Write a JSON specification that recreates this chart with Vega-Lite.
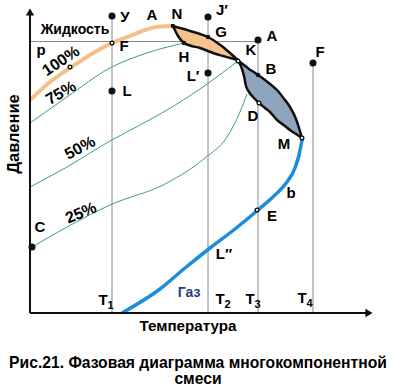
{
  "$schema": "https://vega.github.io/schema/vega-lite/v6.json",
  "width": 394,
  "height": 392,
  "padding": 0,
  "autosize": {"type": "fit", "contains": "padding"},
  "background": "white",
  "config": {
    "view": {"stroke": null},
    "text": {"font": "Liberation Sans", "fontWeight": "bold", "fontSize": 15, "color": "black"}
  },
  "datasets": {
    "green": [
      {"s": "75%", "i": 0, "t": 30, "p": 123}, {"s": "75%", "i": 1, "t": 67, "p": 97}, {"s": "75%", "i": 2, "t": 110, "p": 68}, {"s": "75%", "i": 3, "t": 150, "p": 52}, {"s": "75%", "i": 4, "t": 184, "p": 43},
      {"s": "50%", "i": 0, "t": 30, "p": 187}, {"s": "50%", "i": 1, "t": 67, "p": 167}, {"s": "50%", "i": 2, "t": 110, "p": 141}, {"s": "50%", "i": 3, "t": 140, "p": 125}, {"s": "50%", "i": 4, "t": 167, "p": 110}, {"s": "50%", "i": 5, "t": 200, "p": 89}, {"s": "50%", "i": 6, "t": 238, "p": 61},
      {"s": "25%", "i": 0, "t": 32, "p": 247}, {"s": "25%", "i": 1, "t": 67, "p": 227}, {"s": "25%", "i": 2, "t": 110, "p": 205}, {"s": "25%", "i": 3, "t": 167, "p": 183}, {"s": "25%", "i": 4, "t": 205, "p": 158}, {"s": "25%", "i": 5, "t": 227, "p": 137}, {"s": "25%", "i": 6, "t": 240, "p": 112}, {"s": "25%", "i": 7, "t": 247, "p": 94}
    ],
    "liquid": [
      {"i": 0, "t": 30, "p": 100}, {"i": 1, "t": 50, "p": 82}, {"i": 2, "t": 73, "p": 66}, {"i": 3, "t": 95, "p": 52}, {"i": 4, "t": 112, "p": 43}, {"i": 5, "t": 130, "p": 36}, {"i": 6, "t": 145, "p": 30}, {"i": 7, "t": 160, "p": 26.5}, {"i": 8, "t": 173, "p": 26}
    ],
    "gas": [
      {"i": 0, "t": 122, "p": 313}, {"i": 1, "t": 160, "p": 289}, {"i": 2, "t": 185, "p": 268}, {"i": 3, "t": 210, "p": 248}, {"i": 4, "t": 235, "p": 229}, {"i": 5, "t": 258, "p": 210}, {"i": 6, "t": 275, "p": 195}, {"i": 7, "t": 287, "p": 182}, {"i": 8, "t": 295, "p": 168}, {"i": 9, "t": 299, "p": 155}, {"i": 10, "t": 302, "p": 140}
    ],
    "lensA": [
      {"t": 173, "p": 26, "p2": 26}, {"t": 178, "p": 27.5, "p2": 36}, {"t": 184, "p": 29, "p2": 43}, {"t": 190, "p": 31, "p2": 45.5}, {"t": 200, "p": 34, "p2": 48}, {"t": 208, "p": 37, "p2": 51}, {"t": 216, "p": 42, "p2": 54}, {"t": 223, "p": 47, "p2": 56}, {"t": 230, "p": 53, "p2": 58}, {"t": 238, "p": 60, "p2": 60}
    ],
    "lensB": [
      {"t": 238, "p": 61, "p2": 61}, {"t": 240, "p": 62, "p2": 64}, {"t": 242, "p": 63.5, "p2": 69}, {"t": 244, "p": 65, "p2": 76}, {"t": 246, "p": 66.5, "p2": 86}, {"t": 249, "p": 69, "p2": 92}, {"t": 253, "p": 71.5, "p2": 97}, {"t": 258, "p": 75, "p2": 102}, {"t": 265, "p": 80, "p2": 108}, {"t": 270, "p": 84, "p2": 112}, {"t": 277, "p": 90, "p2": 120}, {"t": 285, "p": 100, "p2": 126}, {"t": 290, "p": 107, "p2": 130}, {"t": 296, "p": 119, "p2": 134}, {"t": 302, "p": 138, "p2": 138}
    ],
    "rules": [
      {"t": 112, "p": 16, "t2": 112, "p2": 313}, {"t": 208, "p": 17, "t2": 208, "p2": 313}, {"t": 258, "p": 40, "t2": 258, "p2": 313}, {"t": 313, "p": 63, "t2": 313, "p2": 313}, {"t": 30, "p": 41.5, "t2": 258, "p2": 41.5}
    ],
    "axes": [
      {"t": 30, "p": 313, "t2": 30, "p2": 14}, {"t": 30, "p": 313, "t2": 366, "p2": 313}
    ],
    "dots": [
      {"n": "У", "t": 112, "p": 16}, {"n": "J", "t": 208, "p": 17}, {"n": "A", "t": 258, "p": 40}, {"n": "F", "t": 313, "p": 63}, {"n": "L", "t": 112, "p": 91}, {"n": "L1", "t": 208, "p": 73}, {"n": "C", "t": 32, "p": 247}
    ],
    "small": [
      {"n": "N", "t": 173, "p": 26}, {"n": "H", "t": 184, "p": 43}, {"n": "G", "t": 208, "p": 37}, {"n": "B", "t": 258, "p": 75}
    ],
    "open": [
      {"n": "F", "t": 112, "p": 43}, {"n": "K", "t": 238, "p": 61}, {"n": "D", "t": 259, "p": 103}, {"n": "M", "t": 302, "p": 138}, {"n": "E", "t": 257, "p": 210}, {"n": "c", "t": 70, "p": 67}
    ],
    "labels": [
      {"txt": "У", "t": 125, "p": 17}, {"txt": "A", "t": 152, "p": 15}, {"txt": "N", "t": 177, "p": 14}, {"txt": "J′", "t": 222, "p": 10},
      {"txt": "G", "t": 221, "p": 32}, {"txt": "A", "t": 272, "p": 36}, {"txt": "K", "t": 251, "p": 50}, {"txt": "B", "t": 271, "p": 69},
      {"txt": "F", "t": 124, "p": 46}, {"txt": "F", "t": 320, "p": 52}, {"txt": "L", "t": 127, "p": 91}, {"txt": "L′", "t": 193, "p": 76},
      {"txt": "H", "t": 184, "p": 57}, {"txt": "D", "t": 253, "p": 116}, {"txt": "M", "t": 284, "p": 144}, {"txt": "b", "t": 291, "p": 193},
      {"txt": "E", "t": 272, "p": 216}, {"txt": "L″", "t": 224, "p": 254}, {"txt": "C", "t": 40, "p": 227}, {"txt": "p", "t": 41, "p": 50}
    ],
    "tT": [
      {"txt": "T", "t": 103, "p": 300}, {"txt": "T", "t": 220, "p": 299}, {"txt": "T", "t": 250, "p": 299}, {"txt": "T", "t": 302, "p": 298}
    ],
    "tSub": [
      {"txt": "1", "t": 110.5, "p": 306}, {"txt": "2", "t": 227.5, "p": 305}, {"txt": "3", "t": 257.5, "p": 305}, {"txt": "4", "t": 309.5, "p": 304}
    ]
  },
  "layer": [
    {
      "data": {"name": "green"},
      "mark": {"type": "line", "color": "#3a9f78", "strokeWidth": 1, "interpolate": "monotone"},
      "encoding": {
        "x": {"field": "t", "type": "quantitative", "scale": {"domain": [0, 394], "nice": false, "zero": false}, "axis": null},
        "y": {"field": "p", "type": "quantitative", "scale": {"domain": [0, 392], "nice": false, "zero": false, "reverse": true}, "axis": null},
        "detail": {"field": "s"},
        "order": {"field": "i"}
      }
    },
    {
      "data": {"name": "rules"},
      "mark": {"type": "rule", "color": "#8a8a8a", "strokeWidth": 1},
      "encoding": {
        "x": {"field": "t", "type": "quantitative"}, "y": {"field": "p", "type": "quantitative"},
        "x2": {"field": "t2"}, "y2": {"field": "p2"}
      }
    },
    {
      "data": {"name": "liquid"},
      "mark": {"type": "line", "color": "#f5bf88", "strokeWidth": 4, "interpolate": "monotone"},
      "encoding": {
        "x": {"field": "t", "type": "quantitative"}, "y": {"field": "p", "type": "quantitative"},
        "order": {"field": "i"}
      }
    },
    {
      "data": {"name": "lensA"},
      "mark": {"type": "area", "fill": "#f6c38e", "stroke": "#111111", "strokeWidth": 2.5, "interpolate": "monotone", "opacity": 1},
      "encoding": {
        "x": {"field": "t", "type": "quantitative"}, "y": {"field": "p", "type": "quantitative"}, "y2": {"field": "p2"}
      }
    },
    {
      "data": {"name": "lensB"},
      "mark": {"type": "area", "fill": "#8fa5bd", "stroke": "#111111", "strokeWidth": 2.5, "interpolate": "monotone", "opacity": 1},
      "encoding": {
        "x": {"field": "t", "type": "quantitative"}, "y": {"field": "p", "type": "quantitative"}, "y2": {"field": "p2"}
      }
    },
    {
      "data": {"name": "gas"},
      "mark": {"type": "line", "color": "#1c8ddc", "strokeWidth": 3.5, "interpolate": "monotone"},
      "encoding": {
        "x": {"field": "t", "type": "quantitative"}, "y": {"field": "p", "type": "quantitative"},
        "order": {"field": "i"}
      }
    },
    {
      "data": {"name": "axes"},
      "mark": {"type": "rule", "color": "#111111", "strokeWidth": 2},
      "encoding": {
        "x": {"field": "t", "type": "quantitative"}, "y": {"field": "p", "type": "quantitative"},
        "x2": {"field": "t2"}, "y2": {"field": "p2"}
      }
    },
    {
      "data": {"values": [{"t": 30, "p": 12}]},
      "mark": {"type": "point", "shape": "triangle-up", "filled": true, "color": "#111111", "size": 70, "opacity": 1},
      "encoding": {"x": {"field": "t", "type": "quantitative"}, "y": {"field": "p", "type": "quantitative"}}
    },
    {
      "data": {"values": [{"t": 369, "p": 313}]},
      "mark": {"type": "point", "shape": "triangle-right", "filled": true, "color": "#111111", "size": 70, "opacity": 1},
      "encoding": {"x": {"field": "t", "type": "quantitative"}, "y": {"field": "p", "type": "quantitative"}}
    },
    {
      "data": {"name": "dots"},
      "mark": {"type": "circle", "color": "#111111", "size": 50, "opacity": 1},
      "encoding": {"x": {"field": "t", "type": "quantitative"}, "y": {"field": "p", "type": "quantitative"}}
    },
    {
      "data": {"name": "small"},
      "mark": {"type": "circle", "color": "#111111", "size": 20, "opacity": 1},
      "encoding": {"x": {"field": "t", "type": "quantitative"}, "y": {"field": "p", "type": "quantitative"}}
    },
    {
      "data": {"name": "open"},
      "mark": {"type": "point", "shape": "circle", "stroke": "#111111", "fill": "white", "filled": false, "strokeWidth": 1.3, "size": 14, "opacity": 1},
      "encoding": {"x": {"field": "t", "type": "quantitative"}, "y": {"field": "p", "type": "quantitative"}}
    },
    {
      "data": {"name": "labels"},
      "mark": {"type": "text", "align": "center", "baseline": "middle"},
      "encoding": {"x": {"field": "t", "type": "quantitative"}, "y": {"field": "p", "type": "quantitative"}, "text": {"field": "txt"}}
    },
    {
      "data": {"values": [{"txt": "Жидкость", "t": 75, "p": 30}]},
      "mark": {"type": "text", "align": "center", "baseline": "middle", "fontSize": 14},
      "encoding": {"x": {"field": "t", "type": "quantitative"}, "y": {"field": "p", "type": "quantitative"}, "text": {"field": "txt"}}
    },
    {
      "data": {"name": "tT"},
      "mark": {"type": "text", "align": "center", "baseline": "middle"},
      "encoding": {"x": {"field": "t", "type": "quantitative"}, "y": {"field": "p", "type": "quantitative"}, "text": {"field": "txt"}}
    },
    {
      "data": {"name": "tSub"},
      "mark": {"type": "text", "align": "center", "baseline": "middle", "fontSize": 11},
      "encoding": {"x": {"field": "t", "type": "quantitative"}, "y": {"field": "p", "type": "quantitative"}, "text": {"field": "txt"}}
    },
    {
      "data": {"values": [{"txt": "100%", "t": 61, "p": 61}]},
      "mark": {"type": "text", "align": "center", "baseline": "middle", "angle": 326, "fontSize": 16},
      "encoding": {"x": {"field": "t", "type": "quantitative"}, "y": {"field": "p", "type": "quantitative"}, "text": {"field": "txt"}}
    },
    {
      "data": {"values": [{"txt": "75%", "t": 61, "p": 93}]},
      "mark": {"type": "text", "align": "center", "baseline": "middle", "angle": 330, "fontSize": 16},
      "encoding": {"x": {"field": "t", "type": "quantitative"}, "y": {"field": "p", "type": "quantitative"}, "text": {"field": "txt"}}
    },
    {
      "data": {"values": [{"txt": "50%", "t": 80, "p": 148}]},
      "mark": {"type": "text", "align": "center", "baseline": "middle", "angle": 332, "fontSize": 16},
      "encoding": {"x": {"field": "t", "type": "quantitative"}, "y": {"field": "p", "type": "quantitative"}, "text": {"field": "txt"}}
    },
    {
      "data": {"values": [{"txt": "25%", "t": 81, "p": 213}]},
      "mark": {"type": "text", "align": "center", "baseline": "middle", "angle": 337, "fontSize": 16},
      "encoding": {"x": {"field": "t", "type": "quantitative"}, "y": {"field": "p", "type": "quantitative"}, "text": {"field": "txt"}}
    },
    {
      "data": {"values": [{"txt": "Газ", "t": 189, "p": 293}]},
      "mark": {"type": "text", "align": "center", "baseline": "middle", "color": "#2b3b7e", "fontSize": 14},
      "encoding": {"x": {"field": "t", "type": "quantitative"}, "y": {"field": "p", "type": "quantitative"}, "text": {"field": "txt"}}
    },
    {
      "data": {"values": [{"txt": "Давление", "t": 14, "p": 134}]},
      "mark": {"type": "text", "align": "center", "baseline": "middle", "angle": 270, "fontSize": 16.5},
      "encoding": {"x": {"field": "t", "type": "quantitative"}, "y": {"field": "p", "type": "quantitative"}, "text": {"field": "txt"}}
    },
    {
      "data": {"values": [{"txt": "Температура", "t": 188, "p": 326}]},
      "mark": {"type": "text", "align": "center", "baseline": "middle", "fontSize": 15.2},
      "encoding": {"x": {"field": "t", "type": "quantitative"}, "y": {"field": "p", "type": "quantitative"}, "text": {"field": "txt"}}
    },
    {
      "data": {"values": [{"txt": "Рис.21. Фазовая диаграмма многокомпонентной", "t": 198, "p": 363}, {"txt": "смеси", "t": 198, "p": 379}]},
      "mark": {"type": "text", "align": "center", "baseline": "middle", "fontSize": 15.7},
      "encoding": {"x": {"field": "t", "type": "quantitative"}, "y": {"field": "p", "type": "quantitative"}, "text": {"field": "txt"}}
    }
  ]
}
